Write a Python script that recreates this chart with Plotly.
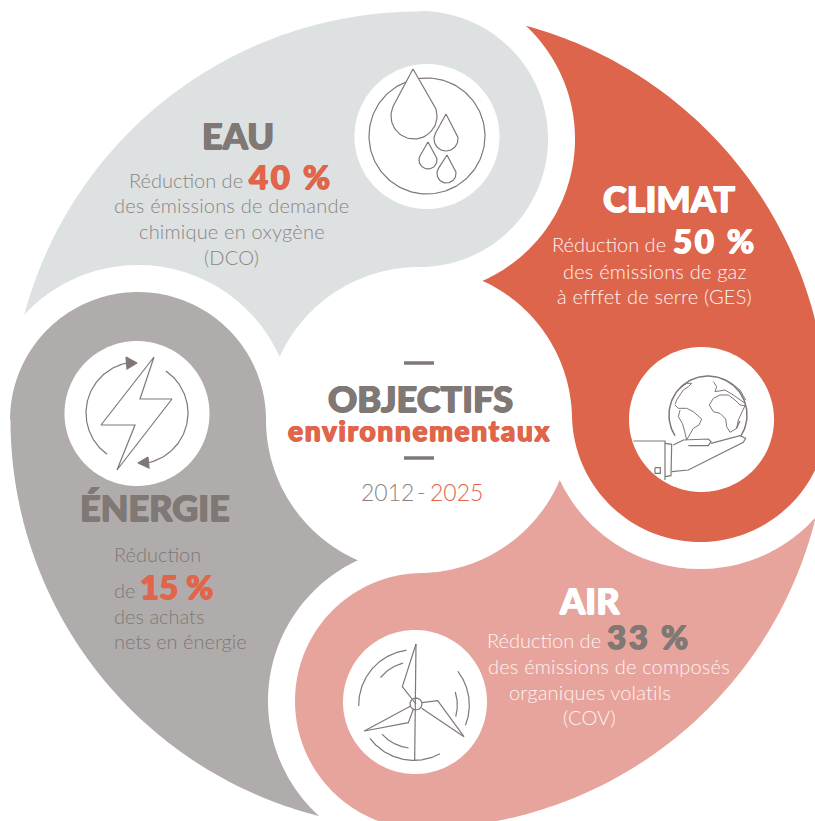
import numpy as np
import plotly.graph_objects as go

# ---------- content ----------
CATEGORIES = ["EAU", "CLIMAT", "AIR", "ÉNERGIE"]
TARGET_PCT = [40, 50, 33, 15]
TITLE_MAIN = "OBJECTIFS"
TITLE_SUB = "environnementaux"
YEAR_START = 2012
YEAR_END = 2025

GREY = "#7F7874"
SOFT = "#8B8582"
RED = "#E0654B"
FILL = {"EAU": "#DDE1E2", "CLIMAT": "#DD654C", "AIR": "#E7A49D", "ÉNERGIE": "#B0ACAB"}

W, H = 815, 821
O = np.array([419.0, 420.0])
R_OUT, R_MID, R_LOBE, R_GAP = 408.5, 153.0, 128.0, 155.0
LOBE = {"EAU": (420, 139), "CLIMAT": (700, 414), "AIR": (423, 701), "ÉNERGIE": (138, 420)}

fig = go.Figure()


def ang(c, p):
    return np.arctan2(p[1] - c[1], p[0] - c[0])


def arc(c, r, a0, a1, cw=True, n=90):
    """Points on a circle; on screen clockwise means growing angle (y points down)."""
    if cw:
        while a1 < a0:
            a1 += 2 * np.pi
    else:
        while a1 > a0:
            a1 -= 2 * np.pi
    t = np.linspace(a0, a1, n)
    return np.c_[c[0] + r * np.cos(t), c[1] + r * np.sin(t)]


def meet(c1, r1, c2, r2, near):
    c1, c2 = np.array(c1, float), np.array(c2, float)
    d = np.linalg.norm(c2 - c1)
    a = (r1**2 - r2**2 + d**2) / (2 * d)
    h = np.sqrt(max(r1**2 - a**2, 0))
    u = (c2 - c1) / d
    m = c1 + a * u
    v = np.array([-u[1], u[0]])
    pts = [m + h * v, m - h * v]
    return min(pts, key=lambda p: np.linalg.norm(p - near))


def path(pts, color=GREY, width=1.2, fill=None):
    pts = np.asarray(pts, float)
    fig.add_trace(go.Scatter(
        x=pts[:, 0], y=pts[:, 1], mode="lines" if width else "none",
        line=dict(color=color, width=width) if width else None,
        fill="toself" if fill else None, fillcolor=fill,
        hoverinfo="skip", showlegend=False))


def circle(c, r, fill=None, color=GREY, width=1.2):
    path(arc(c, r, 0, 2 * np.pi - 1e-6, n=180), color=color, width=width, fill=fill)


def blob(name, prev):
    L = np.array(LOBE[name], float)
    P = np.array(LOBE[prev], float)
    t_out = meet(O, R_OUT, P, R_GAP, L)
    t_mid = meet(O, R_MID, P, R_GAP, L)
    to_l = ang(O, L)
    pts = np.vstack([
        arc(O, R_OUT, ang(O, t_out), to_l, True),
        arc(L, R_LOBE, to_l, to_l + np.pi, True),
        arc(O, R_MID, to_l, ang(O, t_mid), False),
        arc(P, R_GAP, ang(P, t_mid), ang(P, t_out), False),
    ])
    path(pts, width=0, fill=FILL[name])


order = CATEGORIES
for i, name in enumerate(order):
    blob(name, order[i - 1])


# ---------- icons ----------
def drop(c, r, tip):
    c, tip = np.array(c, float), np.array(tip, float)
    d = np.linalg.norm(tip - c)
    base = ang(c, tip)
    off = np.arccos(r / d)
    a = arc(c, r, base + off, base - off + 2 * np.pi, True, 60)
    path(np.vstack([[tip], a, [tip]]), fill="white")


def crop(pts, ox, oy):
    return [(ox + x / 3, oy + y / 3) for x, y in pts]


# water
circle((427, 136.5), 72.5, fill="white", width=0)
circle((427, 136), 58)
drop((414, 116), 23, (413, 69))
drop((446, 139), 12, (446, 114))
drop((428, 160), 9, (428, 142))
drop((446.5, 173.5), 9.5, (447, 155))

# energy
circle((137, 413.5), 72.5, fill="white", width=0)
path([(154, 357), (140, 399), (172, 399), (117, 470), (135, 425), (101, 425), (154, 357)])
ec = (137, 413)
path(arc(ec, 51, ang(ec, (108, 453)), ang(ec, (127, 365)), True))
path(arc(ec, 51, ang(ec, (166, 371)), ang(ec, (148, 462)), True))
path([(126, 357), (137, 363), (127, 369), (126, 357)], fill=GREY)
path([(148, 457), (138, 463), (149, 468), (148, 457)], fill=GREY)

# climate
circle((701.5, 419.5), 72.5, fill="white", width=0)
gc = (708, 415)
path(arc(gc, 39, ang(gc, (743, 437)), ang(gc, (673, 437)), False), width=1.5)
for land in [
    [(253, 180), (265, 160), (285, 150), (310, 150), (330, 165), (345, 180), (360, 182),
     (350, 205), (340, 225), (335, 250), (315, 262), (305, 245), (302, 222), (285, 205),
     (265, 200), (253, 180)],
    [(150, 180), (160, 190), (185, 190), (205, 200), (230, 222), (222, 240), (205, 250),
     (195, 270), (185, 285), (178, 255), (172, 235), (160, 215), (165, 195)],
    [(150, 178), (155, 165), (175, 135), (190, 125), (200, 115), (185, 115), (165, 130)],
    [(265, 110), (275, 125), (270, 140), (300, 135), (325, 150), (340, 160), (360, 175)],
    [(290, 100), (320, 115), (345, 135), (362, 165)],
    [(340, 235), (345, 228), (335, 250), (340, 235)],
]:
    path(crop(land, 625, 345), width=1)
path(crop([(25, 288), (120, 288), (120, 405)], 625, 345), width=1.2)
path(crop([(120, 295), (140, 298), (138, 392), (120, 395)], 625, 345), width=1.2)
path(crop([(90, 368), (106, 368), (106, 385), (90, 385), (90, 368)], 625, 345), width=1.2)
path(crop([(145, 300), (175, 285), (250, 282), (258, 290), (250, 302), (190, 302)], 625, 345), width=1.2)
path(crop([(258, 295), (345, 272), (362, 280), (355, 292), (190, 375), (140, 380)], 625, 345), width=1.2)

# air
circle((415, 702), 72, fill="white", width=0)
path(crop([(228, 42), (224, 392)], 340, 630))
path(crop([(228, 42), (187, 170), (228, 222)], 340, 630))
path(crop([(372, 320), (293, 212), (245, 218)], 340, 630))
path(crop([(372, 320), (245, 235)], 340, 630))
path(crop([(73, 303), (205, 278), (220, 238)], 340, 630))
path(crop([(73, 303), (212, 228)], 340, 630))
circle((340 + 228 / 3, 630 + 222 / 3), 6)
tc = (340 + 222 / 3, 630 + 225 / 3)
for r, a, b in [
    (166 / 3, (58, 228), (200, 65)), (166 / 3, (352, 125), (378, 287)), (166 / 3, (90, 325), (302, 375)),
    (130 / 3, (122, 143), (190, 100)), (130 / 3, (344, 186), (348, 260)), (130 / 3, (123, 315), (205, 358)),
]:
    pa, pb = crop([a, b], 340, 630)
    cw = not (a == (90, 325) or a == (123, 315))
    path(arc(tc, r, ang(tc, pa), ang(tc, pb), cw))

# centre rules
path([(404, 363), (434, 363)], width=3.5)
path([(404, 458), (434, 458)], width=3.5)


# ---------- text ----------
def txt(s, x, y, size, color, weight=300, anchor="center", ls=0.0):
    heavy = weight >= 700
    shadow = (f"0.7px 0 0 {color}, -0.7px 0 0 {color}, 0 0.5px 0 {color}, 0 -0.5px 0 {color}"
              if heavy else "none")
    if ls:
        s = f'<span style="letter-spacing:{ls}px">{s}</span>'
    fig.add_annotation(
        x=x, y=y, text=s, showarrow=False, xanchor=anchor, yanchor="middle",
        xref="x", yref="y", align=anchor,
        font=dict(family="Lato", size=size, color=color, weight=weight, shadow=shadow))


def pct(v):
    return f"{v} %"


HEAD = 36
BODY = 20
NUM = 33
LS = 0.2
NLS = 2.6
LT = "#FDF3F0"

# EAU
txt(CATEGORIES[0], 238, 135, HEAD, GREY, 900)
txt("Réduction de", 186, 180, BODY, SOFT)
txt(pct(TARGET_PCT[0]), 290.5, 176, NUM, RED, 900, ls=NLS)
txt("des émissions de demande", 231.5, 205, BODY, SOFT, ls=LS)
txt("chimique en oxygène", 231.5, 231, BODY, SOFT, ls=LS)
txt("(DCO)", 231.5, 257, BODY, SOFT, ls=LS)

# CLIMAT
txt(CATEGORIES[1], 669, 198, HEAD, "white", 900)
txt("Réduction de", 609, 244, BODY, LT)
txt(pct(TARGET_PCT[1]), 714.5, 240, NUM, "white", 900, ls=NLS)
txt("des émissions de gaz", 655, 271, BODY, LT, ls=LS)
txt("à efffet de serre (GES)", 654.5, 296, BODY, LT, ls=LS)

# AIR
txt(CATEGORIES[2], 589, 600, HEAD, "white", 900)
txt("Réduction de", 544, 640, BODY, LT)
txt(pct(TARGET_PCT[2]), 649, 636, NUM, GREY, 900, ls=NLS)
txt("des émissions de composés", 608.5, 666, BODY, LT, ls=LS)
txt("organiques volatils", 589.5, 692, BODY, LT, ls=LS)
txt("(COV)", 589.5, 717, BODY, LT, ls=LS)

# ÉNERGIE
txt(CATEGORIES[3], 154.5, 507, HEAD, GREY, 900)
txt("Réduction", 112, 554, BODY, GREY, anchor="left")
txt("de", 112, 590, BODY, GREY, anchor="left")
txt(pct(TARGET_PCT[3]), 176, 586, NUM, RED, 900)
txt("des achats", 112, 616, BODY, GREY, anchor="left")
txt("nets en énergie", 112, 641, BODY, GREY, anchor="left")

# centre
txt(TITLE_MAIN, 420.5, 398, 36, GREY, 900)
txt(TITLE_SUB, 419.5, 430, 28, RED, 900, ls=1.7)
txt(str(YEAR_START), 387, 492, 23, SOFT)
txt("-", 421.5, 492, 23, RED)
txt(str(YEAR_END), 456, 492, 23, RED)

fig.update_layout(
    width=W, height=H, margin=dict(l=0, r=0, t=0, b=0),
    paper_bgcolor="white", plot_bgcolor="white", showlegend=False,
    xaxis=dict(range=[0, W], visible=False, fixedrange=True),
    yaxis=dict(range=[H, 0], visible=False, fixedrange=True),
)
fig.write_html("out.html", config={"displayModeBar": False},
               post_script="document.body.style.margin='0';document.documentElement.style.overflow='hidden';")
